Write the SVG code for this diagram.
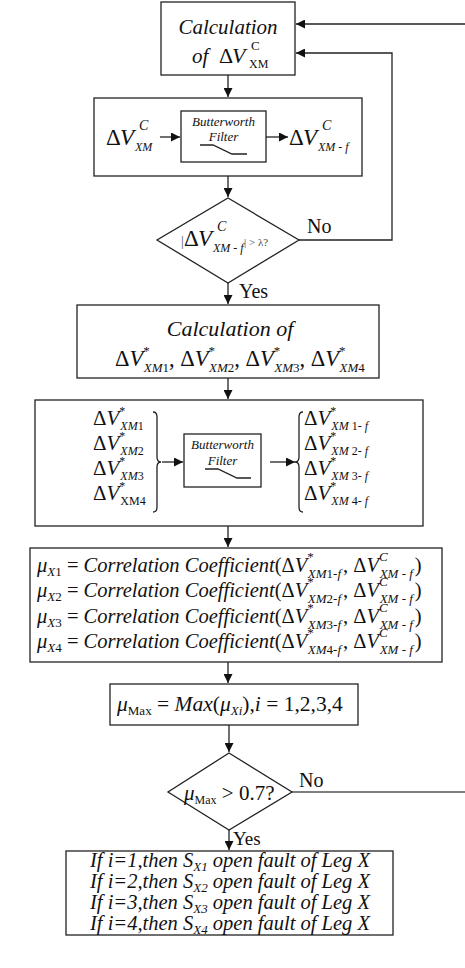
<svg xmlns="http://www.w3.org/2000/svg" width="465" height="968" viewBox="0 0 465 968" font-family="Liberation Serif">
<style>
.box{fill:#fff;stroke:#222;stroke-width:1.3}
.ln{fill:none;stroke:#222;stroke-width:1.3}
.gl{fill:none;stroke:#555;stroke-width:1.3}
.it{font-style:italic}
</style>
<defs>
<marker id="ah" viewBox="0 0 10 10" refX="10" refY="5" markerWidth="9" markerHeight="9" markerUnits="userSpaceOnUse" orient="auto"><path d="M0,0 L10,5 L0,10 z" fill="#111"/></marker>
</defs>
<rect width="465" height="968" fill="#fff"/>

<g id="connectors" fill="#111">
<line class="ln" x1="465" y1="24" x2="296" y2="24" marker-end="url(#ah)"/>
<polyline class="ln" points="299,240 392,240 392,53 296,53" marker-end="url(#ah)"/>
<line class="ln" x1="228" y1="75" x2="228" y2="97" marker-end="url(#ah)"/>
<line class="ln" x1="228" y1="176" x2="228" y2="197" marker-end="url(#ah)"/>
<line class="ln" x1="228" y1="283" x2="228" y2="304" marker-end="url(#ah)"/>
<line class="ln" x1="228" y1="378" x2="228" y2="399" marker-end="url(#ah)"/>
<line class="ln" x1="228" y1="526" x2="228" y2="547" marker-end="url(#ah)"/>
<line class="ln" x1="228" y1="662" x2="228" y2="683" marker-end="url(#ah)"/>
<line class="ln" x1="229" y1="725" x2="229" y2="752" marker-end="url(#ah)"/>
<line class="ln" x1="229" y1="830" x2="229" y2="850" marker-end="url(#ah)"/>
<line class="gl" x1="292" y1="792" x2="465" y2="792"/>
<text x="307" y="233" font-size="20">No</text>
<text x="239" y="298" font-size="20">Yes</text>
<text x="299" y="787" font-size="20">No</text>
<text x="233" y="845" font-size="19">Yes</text>
</g>

<g id="calc-dv" fill="#111">
<rect class="box" x="161" y="2" width="134" height="73"/>
<text x="228" y="34" font-size="21" class="it" text-anchor="middle">Calculation</text>
<text x="192" y="63" font-size="21" class="it">of</text>
<text x="219" y="63" font-size="22">Δ</text>
<text x="232" y="63" font-size="22" class="it">V</text>
<text x="251" y="50" font-size="13">C</text>
<text x="249" y="68" font-size="12">XM</text>
</g>

<g id="filter1" fill="#111">
<rect class="box" x="94" y="98" width="268" height="78"/>
<text x="106" y="145" font-size="23">Δ</text>
<text x="120" y="145" font-size="23" class="it">V</text>
<text x="139" y="130" font-size="14" class="it">C</text>
<text x="135" y="151" font-size="12" class="it">XM</text>
<line class="ln" x1="160" y1="137" x2="180" y2="137" marker-end="url(#ah)"/>
<rect class="box" x="181" y="111" width="85" height="51"/>
<text x="223.5" y="126" font-size="13" class="it" text-anchor="middle">Butterworth</text>
<text x="223.5" y="141" font-size="13" class="it" text-anchor="middle">Filter</text>
<polyline class="ln" points="200,145 213,145 232,154 247,154"/>
<line class="ln" x1="266" y1="137" x2="288" y2="137" marker-end="url(#ah)"/>
<text x="289" y="145" font-size="23">Δ</text>
<text x="303" y="145" font-size="23" class="it">V</text>
<text x="322" y="130" font-size="14" class="it">C</text>
<text x="318" y="151" font-size="12" class="it">XM - f</text>
</g>

<g id="check1" fill="#111">
<polygon class="box" points="228,198 299,240 228,283 157,240"/>
<text x="181" y="246" font-size="14" fill="#555">|</text>
<text x="184" y="246" font-size="23">Δ</text>
<text x="198" y="246" font-size="23" class="it">V</text>
<text x="217" y="231" font-size="14" class="it">C</text>
<text x="213" y="252" font-size="12" class="it">XM - f</text>
<text x="244" y="246" font-size="11" fill="#444">| &gt; λ?</text>
</g>

<g id="calc-dv-star" fill="#111">
<rect class="box" x="77" y="305" width="302" height="73"/>
<text x="230" y="336" font-size="22" class="it" text-anchor="middle">Calculation of</text>
<text x="115" y="366" font-size="22.5">Δ<tspan class="it">V</tspan><tspan font-size="13" dy="-11">*</tspan><tspan font-size="13" class="it" dx="-6" dy="17">XM</tspan><tspan font-size="13">1</tspan><tspan dy="-6">, Δ</tspan><tspan class="it">V</tspan><tspan font-size="13" dy="-11">*</tspan><tspan font-size="13" class="it" dx="-6" dy="17">XM</tspan><tspan font-size="13">2</tspan><tspan dy="-6">, Δ</tspan><tspan class="it">V</tspan><tspan font-size="13" dy="-11">*</tspan><tspan font-size="13" class="it" dx="-6" dy="17">XM</tspan><tspan font-size="13">3</tspan><tspan dy="-6">, Δ</tspan><tspan class="it">V</tspan><tspan font-size="13" dy="-11">*</tspan><tspan font-size="13" class="it" dx="-6" dy="17">XM</tspan><tspan font-size="13">4</tspan></text>
</g>

<g id="filter4" fill="#111">
<rect class="box" x="35" y="400" width="388" height="126"/>
<text x="93" y="425" font-size="21">Δ<tspan class="it">V</tspan><tspan font-size="12" dy="-10">*</tspan><tspan font-size="12" class="it" dx="-5" dy="15">XM</tspan><tspan font-size="12">1</tspan></text>
<text x="93" y="450" font-size="21">Δ<tspan class="it">V</tspan><tspan font-size="12" dy="-10">*</tspan><tspan font-size="12" class="it" dx="-5" dy="15">XM</tspan><tspan font-size="12">2</tspan></text>
<text x="93" y="475" font-size="21">Δ<tspan class="it">V</tspan><tspan font-size="12" dy="-10">*</tspan><tspan font-size="12" class="it" dx="-5" dy="15">XM</tspan><tspan font-size="12">3</tspan></text>
<text x="93" y="500" font-size="21">Δ<tspan class="it">V</tspan><tspan font-size="12" dy="-10">*</tspan><tspan font-size="12" dx="-5" dy="15">XM4</tspan></text>
<path class="ln" d="M153,412 q4,0 4,5 v40 q0,5 4,5 q-4,0 -4,5 v40 q0,5 -4,5"/>
<line class="ln" x1="162" y1="462" x2="183" y2="462" marker-end="url(#ah)"/>
<rect class="box" x="184" y="434" width="77" height="53"/>
<text x="222.5" y="449" font-size="13" class="it" text-anchor="middle">Butterworth</text>
<text x="222.5" y="465" font-size="13" class="it" text-anchor="middle">Filter</text>
<polyline class="ln" points="205,469 218,469 237,478 251,478"/>
<line class="ln" x1="270" y1="462" x2="295" y2="462" marker-end="url(#ah)"/>
<path class="ln" d="M303,412 q-4,0 -4,5 v40 q0,5 -4,5 q4,0 4,5 v40 q0,5 4,5"/>
<text x="304" y="425" font-size="21">Δ<tspan class="it">V</tspan><tspan font-size="12" dy="-10">*</tspan><tspan font-size="12" class="it" dx="-5" dy="15">XM</tspan><tspan font-size="12"> 1-</tspan><tspan font-size="12" class="it"> f</tspan></text>
<text x="304" y="450" font-size="21">Δ<tspan class="it">V</tspan><tspan font-size="12" dy="-10">*</tspan><tspan font-size="12" class="it" dx="-5" dy="15">XM</tspan><tspan font-size="12"> 2-</tspan><tspan font-size="12" class="it"> f</tspan></text>
<text x="304" y="475" font-size="21">Δ<tspan class="it">V</tspan><tspan font-size="12" dy="-10">*</tspan><tspan font-size="12" class="it" dx="-5" dy="15">XM</tspan><tspan font-size="12"> 3-</tspan><tspan font-size="12" class="it"> f</tspan></text>
<text x="304" y="500" font-size="21">Δ<tspan class="it">V</tspan><tspan font-size="12" dy="-10">*</tspan><tspan font-size="12" class="it" dx="-5" dy="15">XM</tspan><tspan font-size="12"> 4-</tspan><tspan font-size="12" class="it"> f</tspan></text>
</g>

<g id="correlation" fill="#111">
<rect class="box" x="30" y="548" width="412" height="114"/>
<text x="37" y="572" font-size="20.5"><tspan class="it">μ</tspan><tspan font-size="13" class="it" dy="4">X</tspan><tspan font-size="13">1</tspan><tspan dy="-4"> = </tspan><tspan class="it">Correlation Coefficient</tspan>(Δ<tspan class="it">V</tspan><tspan font-size="13" dy="-11">*</tspan><tspan font-size="13" class="it" dx="-6" dy="17">XM</tspan><tspan font-size="13">1-</tspan><tspan font-size="13" class="it">f</tspan><tspan dx="2" dy="-6">, Δ</tspan><tspan class="it">V</tspan><tspan font-size="13" class="it" dy="-11">C</tspan><tspan font-size="13" class="it" dx="-8" dy="17">XM - f</tspan><tspan dx="2" dy="-6">)</tspan></text>
<text x="37" y="597" font-size="20.5"><tspan class="it">μ</tspan><tspan font-size="13" class="it" dy="4">X</tspan><tspan font-size="13">2</tspan><tspan dy="-4"> = </tspan><tspan class="it">Correlation Coefficient</tspan>(Δ<tspan class="it">V</tspan><tspan font-size="13" dy="-11">*</tspan><tspan font-size="13" class="it" dx="-6" dy="17">XM</tspan><tspan font-size="13">2-</tspan><tspan font-size="13" class="it">f</tspan><tspan dx="2" dy="-6">, Δ</tspan><tspan class="it">V</tspan><tspan font-size="13" class="it" dy="-11">C</tspan><tspan font-size="13" class="it" dx="-8" dy="17">XM - f</tspan><tspan dx="2" dy="-6">)</tspan></text>
<text x="37" y="623" font-size="20.5"><tspan class="it">μ</tspan><tspan font-size="13" class="it" dy="4">X</tspan><tspan font-size="13">3</tspan><tspan dy="-4"> = </tspan><tspan class="it">Correlation Coefficient</tspan>(Δ<tspan class="it">V</tspan><tspan font-size="13" dy="-11">*</tspan><tspan font-size="13" class="it" dx="-6" dy="17">XM</tspan><tspan font-size="13">3-</tspan><tspan font-size="13" class="it">f</tspan><tspan dx="2" dy="-6">, Δ</tspan><tspan class="it">V</tspan><tspan font-size="13" class="it" dy="-11">C</tspan><tspan font-size="13" class="it" dx="-8" dy="17">XM - f</tspan><tspan dx="2" dy="-6">)</tspan></text>
<text x="37" y="648" font-size="20.5"><tspan class="it">μ</tspan><tspan font-size="13" class="it" dy="4">X</tspan><tspan font-size="13">4</tspan><tspan dy="-4"> = </tspan><tspan class="it">Correlation Coefficient</tspan>(Δ<tspan class="it">V</tspan><tspan font-size="13" dy="-11">*</tspan><tspan font-size="13" class="it" dx="-6" dy="17">XM</tspan><tspan font-size="13">4-</tspan><tspan font-size="13" class="it">f</tspan><tspan dx="2" dy="-6">, Δ</tspan><tspan class="it">V</tspan><tspan font-size="13" class="it" dy="-11">C</tspan><tspan font-size="13" class="it" dx="-8" dy="17">XM - f</tspan><tspan dx="2" dy="-6">)</tspan></text>
</g>

<g id="max" fill="#111">
<rect class="box" x="110" y="684" width="248" height="41"/>
<text x="117" y="711" font-size="21.5"><tspan class="it">μ</tspan><tspan font-size="13" dy="4">Max</tspan><tspan dy="-4"> = </tspan><tspan class="it">Max</tspan>(<tspan class="it">μ</tspan><tspan font-size="13" class="it" dy="4">Xi</tspan><tspan dy="-4">),</tspan><tspan class="it">i</tspan> = 1,2,3,4</text>
</g>

<g id="check2" fill="#111">
<polygon class="box" points="229,753 292,792 229,830 168,792"/>
<text x="184" y="800" font-size="21"><tspan class="it">μ</tspan><tspan font-size="12" dy="4">Max</tspan><tspan dy="-4"> &gt; 0.7?</tspan></text>
</g>

<g id="result" fill="#111">
<rect class="box" x="66" y="851" width="327" height="84"/>
<text x="90" y="867" font-size="20.5" class="it">If i=1,then S<tspan font-size="13" dy="4">X1</tspan><tspan dy="-4"> open fault of Leg X</tspan></text>
<text x="90" y="888" font-size="20.5" class="it">If i=2,then S<tspan font-size="13" dy="4">X2</tspan><tspan dy="-4"> open fault of Leg X</tspan></text>
<text x="90" y="909" font-size="20.5" class="it">If i=3,then S<tspan font-size="13" dy="4">X3</tspan><tspan dy="-4"> open fault of Leg X</tspan></text>
<text x="90" y="930" font-size="20.5" class="it">If i=4,then S<tspan font-size="13" dy="4">X4</tspan><tspan dy="-4"> open fault of Leg X</tspan></text>
</g>
</svg>
